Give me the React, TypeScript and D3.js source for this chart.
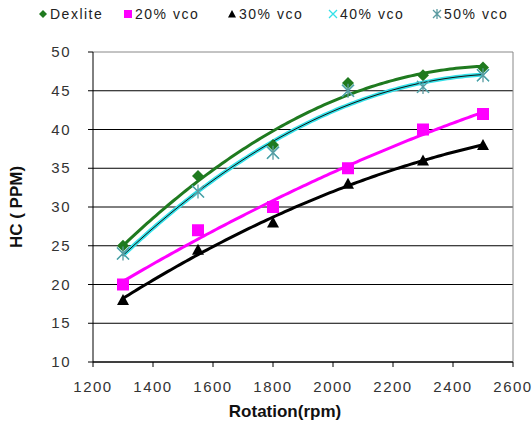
import React from 'react';
import * as d3 from 'd3';

const rpm = [1300, 1550, 1800, 2050, 2300, 2500];
const dexlite = [25, 34, 38, 46, 47, 48];
const vco20 = [20, 27, 30, 35, 40, 42];
const vco30 = [18, 24.5, 28, 33, 36, 38];
const vco40 = [24, 32, 37, 45, 45.5, 47];
const vco50 = [24, 32, 37, 45, 45.5, 47];
const xTicks = [1200, 1400, 1600, 1800, 2000, 2200, 2400, 2600];
const yTicks = [10, 15, 20, 25, 30, 35, 40, 45, 50];

const series = [
  { name: 'Dexlite', values: dexlite, color: '#1f7a1f', line: '#1f7a1f', lw: 3, marker: 'diamond' },
  { name: '20% vco', values: vco20, color: '#ff00ff', line: '#ff00ff', lw: 3, marker: 'square' },
  { name: '30% vco', values: vco30, color: '#000000', line: '#000000', lw: 3, marker: 'triangle' },
  { name: '40% vco', values: vco40, color: '#33e0e8', line: '#33e0e8', lw: 4, marker: 'x' },
  { name: '50% vco', values: vco50, color: '#5a9aa0', line: '#111111', lw: 1, marker: 'star' },
];

// 2nd order polynomial trendline (least squares)
function quadFit(xs: number[], ys: number[]) {
  const n = xs.length;
  const m = d3.mean(xs) as number;
  const u = xs.map(x => (x - m) / 1000);
  let s0 = n, s1 = 0, s2 = 0, s3 = 0, s4 = 0, t0 = 0, t1 = 0, t2 = 0;
  u.forEach((x, i) => {
    const y = ys[i];
    s1 += x; s2 += x * x; s3 += x ** 3; s4 += x ** 4;
    t0 += y; t1 += x * y; t2 += x * x * y;
  });
  const A = [[s0, s1, s2, t0], [s1, s2, s3, t1], [s2, s3, s4, t2]];
  for (let i = 0; i < 3; i++) {
    for (let k = i + 1; k < 3; k++) {
      const f = A[k][i] / A[i][i];
      for (let j = i; j < 4; j++) A[k][j] -= f * A[i][j];
    }
  }
  const c = [0, 0, 0];
  for (let i = 2; i >= 0; i--) {
    let s = A[i][3];
    for (let j = i + 1; j < 3; j++) s -= A[i][j] * c[j];
    c[i] = s / A[i][i];
  }
  return (x: number) => {
    const v = (x - m) / 1000;
    return c[0] + c[1] * v + c[2] * v * v;
  };
}

function Marker({ type, x, y, color, r = 6 }: { type: string; x: number; y: number; color: string; r?: number }) {
  if (type === 'diamond')
    return <path d={`M${x},${y - r}L${x + r},${y}L${x},${y + r}L${x - r},${y}Z`} fill={color} />;
  if (type === 'square')
    return <rect x={x - r} y={y - r} width={2 * r} height={2 * r} fill={color} />;
  if (type === 'triangle')
    return <path d={`M${x},${y - r}L${x + r},${y + r * 0.85}L${x - r},${y + r * 0.85}Z`} fill={color} />;
  if (type === 'x')
    return <path d={`M${x - r},${y - r}L${x + r},${y + r}M${x + r},${y - r}L${x - r},${y + r}`} stroke={color} strokeWidth={1.3} />;
  return (
    <path
      d={`M${x - r},${y - r}L${x + r},${y + r}M${x + r},${y - r}L${x - r},${y + r}M${x},${y - r - 1}L${x},${y + r + 1}`}
      stroke={color}
      strokeWidth={1.3}
    />
  );
}

export default function App() {
  const width = 532;
  const height = 432;
  const x = d3.scaleLinear().domain([1200, 2600]).range([93, 513]);
  const y = d3.scaleLinear().domain([10, 50]).range([362, 52]);
  const font = '"Liberation Sans", Arial, sans-serif';

  const samples = d3.range(1300, 2501, 10);
  const line = d3.line<number[]>().x(d => x(d[0])).y(d => y(d[1]));

  const legendX = [43, 128, 232, 333, 437];

  return (
    <svg width={width} height={height} style={{ position: 'absolute', left: 0, top: 0, background: '#fff' }}>
      {/* gridlines */}
      {yTicks.map(t => (
        <line key={t} x1={x(1200)} x2={x(2600)} y1={y(t)} y2={y(t)} stroke={t === 50 ? '#888' : '#000'} strokeWidth={1} />
      ))}
      <line x1={x(2600)} x2={x(2600)} y1={y(50)} y2={y(10)} stroke="#888" />
      {/* axes */}
      <line x1={x(1200)} x2={x(1200)} y1={y(50)} y2={y(10)} stroke="#000" />
      <line x1={x(1200)} x2={x(2600)} y1={y(10)} y2={y(10)} stroke="#000" />
      {yTicks.map(t => (
        <g key={'yt' + t}>
          <line x1={x(1200) - 5} x2={x(1200)} y1={y(t)} y2={y(t)} stroke="#000" />
          <text x={71} y={y(t) + 5} textAnchor="end" fontFamily={font} fontSize={15} fill="#333" letterSpacing={1.5}>
            {t}
          </text>
        </g>
      ))}
      {xTicks.map(t => (
        <g key={'xt' + t}>
          <line x1={x(t)} x2={x(t)} y1={y(10)} y2={y(10) + 5} stroke="#000" />
          <text x={x(t)} y={y(10) + 30} textAnchor="middle" fontFamily={font} fontSize={15} fill="#333" letterSpacing={1.5}>
            {t}
          </text>
        </g>
      ))}
      {/* trendlines */}
      {series.map(s => {
        const f = quadFit(rpm, s.values);
        const pts = samples.map(v => [v, f(v)]);
        return <path key={'l' + s.name} d={line(pts) || ''} fill="none" stroke={s.line} strokeWidth={s.lw} />;
      })}
      {/* markers */}
      {series.map(s =>
        s.values.map((v, i) => <Marker key={s.name + i} type={s.marker} x={x(rpm[i])} y={y(v)} color={s.color} />)
      )}
      {/* legend */}
      {series.map((s, i) => (
        <g key={'lg' + s.name}>
          <Marker type={s.marker} x={legendX[i]} y={14} color={s.color} r={4} />
          <text x={legendX[i] + 7} y={19} fontFamily={font} fontSize={14} fill="#222" letterSpacing={1.5}>
            {s.name}
          </text>
        </g>
      ))}
      {/* axis titles */}
      <text
        transform={`translate(22,${y(30)}) rotate(-90)`}
        textAnchor="middle"
        fontFamily={font}
        fontSize={17}
        fontWeight="bold"
        fill="#111"
      >
        HC ( PPM)
      </text>
      <text x={285} y={417} textAnchor="middle" fontFamily={font} fontSize={17} fontWeight="bold" fill="#111">
        Rotation(rpm)
      </text>
    </svg>
  );
}
